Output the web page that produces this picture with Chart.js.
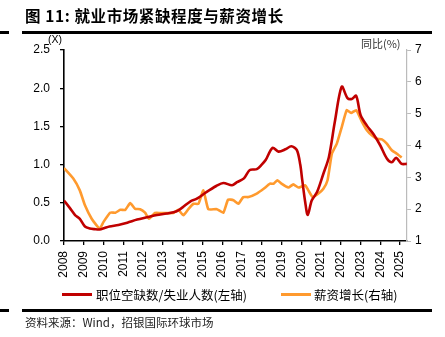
<!DOCTYPE html>
<html>
<head>
<meta charset="utf-8">
<script src="https://cdn.jsdelivr.net/npm/chart.js@4"></script>
<style>
  html, body { margin: 0; padding: 0; background: #fff; }
  #wrap { position: relative; width: 445px; height: 337px; overflow: hidden; font-family: "Liberation Sans", Arial, sans-serif; }
  #chart { position: absolute; left: 0; top: 0; }
  .txt { position: absolute; white-space: nowrap; color: #000; }
  .cjk { font-family: "Noto Sans CJK SC", sans-serif; }
  .rule { position: absolute; background: #000; height: 3px; }
  .leg-line { position: absolute; height: 3px; }
</style>
</head>
<body>
<div id="wrap">
  <canvas id="chart" width="445" height="337"></canvas>
  <div class="txt cjk" style="left:25px; top:4px; font-size:15.5px; font-weight:bold; letter-spacing:0.6px;">图 11: 就业市场紧缺程度与薪资增长</div>
  <div class="rule" style="left:0; top:31px; width:9px;"></div>
  <div class="rule" style="left:22px; top:31px; width:410px;"></div>
  <div class="txt" style="left:48px; top:33px; font-size:10.5px;">(X)</div>
  <div class="txt cjk" style="left:361px; top:35px; font-size:11px; color:#333;">同比(%)</div>
  <div class="leg-line" style="left:62px; top:293px; width:30px; background:#c00000;"></div>
  <div class="txt cjk" style="left:96px; top:285px; font-size:12.5px;">职位空缺数/失业人数(左轴)</div>
  <div class="leg-line" style="left:281px; top:293px; width:30px; background:#ff9a2e;"></div>
  <div class="txt cjk" style="left:314px; top:285px; font-size:12.5px;">薪资增长(右轴)</div>
  <div class="rule" style="left:0; top:309px; width:9px;"></div>
  <div class="rule" style="left:22px; top:309px; width:410px;"></div>
  <div class="txt cjk" style="left:25px; top:314px; font-size:11.5px; color:#222;">资料来源：Wind，招银国际环球市场</div>
</div>
<script>
// 职位空缺数/失业人数 (left axis, X)
const ratioYears = [2008.0, 2008.3, 2008.56, 2008.8, 2009.06, 2009.3, 2009.55, 2009.8, 2010.05, 2010.3,
  2010.75, 2011.2, 2011.7, 2012.2, 2012.7, 2013.2, 2013.7, 2014.0, 2014.4, 2014.7,
  2015.2, 2015.7, 2016.06, 2016.5, 2016.75, 2017.1, 2017.4, 2017.75, 2018.0, 2018.2,
  2018.55, 2018.85, 2019.2, 2019.5, 2019.78, 2019.95, 2020.05, 2020.2, 2020.33, 2020.53,
  2020.8, 2021.12, 2021.4, 2021.7, 2022.05, 2022.34, 2022.56, 2022.78, 2023.0, 2023.32,
  2023.65, 2024.0, 2024.33, 2024.58, 2024.8, 2025.08, 2025.34];
const ratioValues = [0.53, 0.43, 0.34, 0.29, 0.19, 0.165, 0.155, 0.15, 0.17, 0.19,
  0.21, 0.24, 0.28, 0.31, 0.34, 0.36, 0.39, 0.44, 0.52, 0.55,
  0.64, 0.72, 0.76, 0.73, 0.77, 0.82, 0.93, 0.94, 1.0, 1.06,
  1.22, 1.17, 1.2, 1.24, 1.19, 1.0, 0.8, 0.51, 0.34, 0.53,
  0.64, 0.88, 1.1, 1.56, 2.02, 1.87, 1.86, 1.9, 1.65, 1.51,
  1.40, 1.25, 1.08, 1.03, 1.09, 1.01, 1.01];

// 薪资增长 (right axis, %)
const wageYears = [2008.0, 2008.47, 2008.8, 2009.06, 2009.4, 2009.8, 2010.0, 2010.33, 2010.6, 2010.85,
  2011.1, 2011.35, 2011.6, 2011.85, 2012.1, 2012.3, 2012.6, 2012.86, 2013.53, 2013.78,
  2014.04, 2014.3, 2014.55, 2014.8, 2015.05, 2015.3, 2015.73, 2016.06, 2016.3, 2016.57,
  2016.82, 2017.07, 2017.33, 2017.75, 2018.1, 2018.42, 2018.6, 2018.8, 2019.0, 2019.35,
  2019.6, 2019.86, 2020.2, 2020.36, 2020.58, 2020.87, 2021.12, 2021.33, 2021.55, 2021.8,
  2022.05, 2022.3, 2022.52, 2022.78, 2023.06, 2023.32, 2023.57, 2023.83, 2024.08, 2024.33,
  2024.58, 2024.84, 2025.08];
const wageValues = [3.29, 2.96, 2.59, 2.12, 1.70, 1.39, 1.60, 1.89, 1.89, 1.98,
  1.98, 2.19, 2.01, 2.0, 1.89, 1.70, 1.88, 1.88, 1.88, 1.98,
  1.81, 2.01, 2.17, 2.17, 2.59, 2.0, 2.0, 1.89, 2.30, 2.28,
  2.17, 2.38, 2.38, 2.49, 2.64, 2.80, 2.80, 2.91, 2.80, 2.68,
  2.78, 2.68, 2.75, 2.59, 2.38, 2.49, 2.64, 2.91, 3.74, 4.06,
  4.58, 5.11, 5.02, 5.11, 4.76, 4.48, 4.32, 4.21, 4.19, 4.06,
  3.85, 3.74, 3.62];

const leftTicks = [0, 0.5, 1.0, 1.5, 2.0, 2.5];
const rightTicks = [1, 2, 3, 4, 5, 6, 7];
const yearTicks = [2008, 2009, 2010, 2011, 2012, 2013, 2014, 2015, 2016, 2017, 2018, 2019, 2020, 2021, 2022, 2023, 2024, 2025];

const tickFont = { family: "Liberation Sans, Arial, sans-serif", size: 12 };

const chart = new Chart(document.getElementById("chart").getContext("2d"), {
  type: "line",
  data: {
    datasets: [
      {
        label: "职位空缺数/失业人数(左轴)",
        data: ratioYears.map((x, i) => ({ x, y: ratioValues[i] })),
        borderColor: "#c00000",
        borderWidth: 2.6,
        pointRadius: 0,
        tension: 0.3,
        yAxisID: "yL"
      },
      {
        label: "薪资增长(右轴)",
        data: wageYears.map((x, i) => ({ x, y: wageValues[i] })),
        borderColor: "#ff9a2e",
        borderWidth: 2.6,
        pointRadius: 0,
        tension: 0.15,
        yAxisID: "yR"
      }
    ]
  },
  options: {
    responsive: false,
    animation: false,
    events: [],
    layout: { padding: { left: 0, right: 0, top: 50, bottom: 56 } },
    plugins: { legend: { display: false }, tooltip: { enabled: false } },
    scales: {
      x: {
        type: "linear",
        min: 2008,
        max: 2025.35,
        afterBuildTicks: s => { s.ticks = yearTicks.map(v => ({ value: v })); },
        afterFit: s => { s.height = 40; },
        ticks: {
          includeBounds: false,
          minRotation: 90,
          maxRotation: 90,
          autoSkip: false,
          padding: 6,
          color: "#000",
          font: tickFont,
          callback: v => String(v)
        },
        grid: { drawOnChartArea: false, drawTicks: true, tickLength: 4, color: "#000", lineWidth: 1.3 },
        border: { display: true, color: "#000", width: 1.6 }
      },
      yL: {
        position: "left",
        min: 0,
        max: 2.5,
        afterBuildTicks: s => { s.ticks = leftTicks.map(v => ({ value: v })); },
        afterFit: s => { s.width = 64; },
        ticks: { color: "#000", font: tickFont, padding: 10, callback: v => v.toFixed(1) },
        grid: { drawOnChartArea: false, drawTicks: true, tickLength: 4, color: "#000", lineWidth: 1.3 },
        border: { display: true, color: "#000", width: 1.6 }
      },
      yR: {
        position: "right",
        min: 1,
        max: 7,
        afterBuildTicks: s => { s.ticks = rightTicks.map(v => ({ value: v })); },
        afterFit: s => { s.width = 38; },
        ticks: { color: "#000", font: tickFont, padding: 4, callback: v => String(v) },
        grid: { drawOnChartArea: false, drawTicks: true, tickLength: 4, color: "#bbb", lineWidth: 1 },
        border: { display: true, color: "#bbb", width: 1.2 }
      }
    }
  }
});
</script>
</body>
</html>
